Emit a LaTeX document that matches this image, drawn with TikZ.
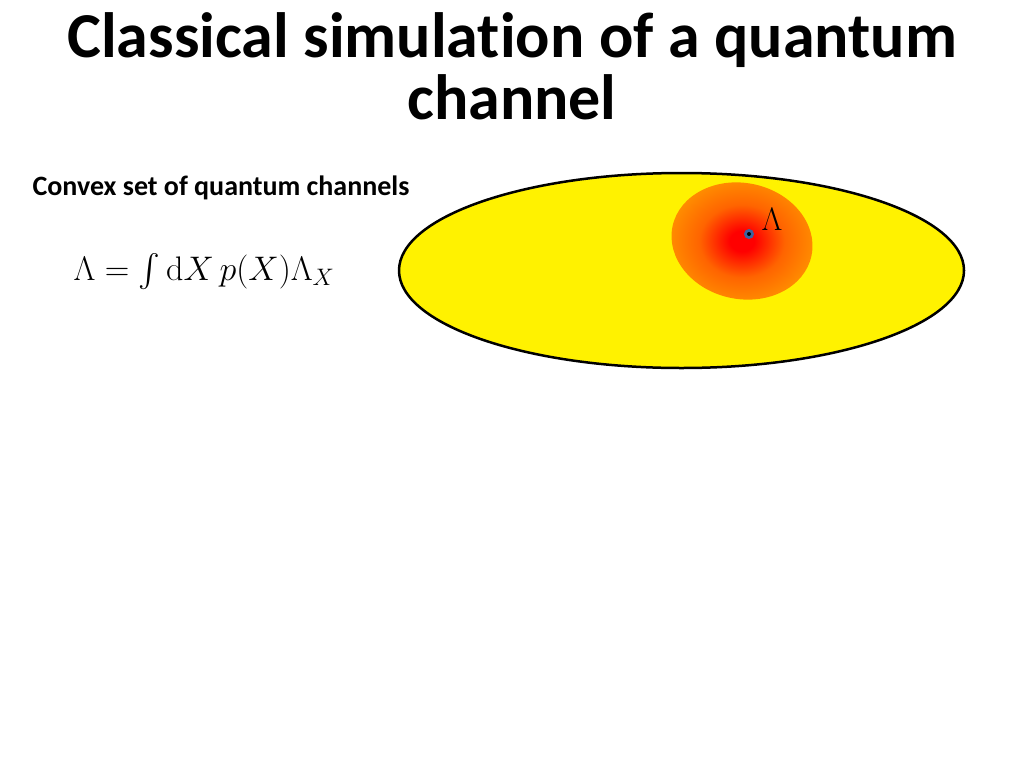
\RequirePackage{fix-cm}
\documentclass[tikz,border=0pt]{standalone}
\usepackage{graphicx}
\usepackage{exscale}
\usepackage{fontspec}
\setsansfont[Ligatures=NoCommon]{Carlito}
\usetikzlibrary{positioning}
\definecolor{blobmid}{RGB}{255,100,0}
\definecolor{bloborange}{RGB}{255,165,0}
\definecolor{blobedge}{RGB}{255,215,0}
\pgfdeclareradialshading{blob}{\pgfpoint{0bp}{0bp}}{%
  color(0bp)=(red); color(4bp)=(red); color(14bp)=(blobmid);
  color(30bp)=(bloborange); color(50bp)=(blobedge); color(100bp)=(blobedge)}
\definecolor{dotblue}{RGB}{60,100,160}
\begin{document}
\begin{tikzpicture}[x=1pt,y=-1pt]
\useasboundingbox (0,0) rectangle (1024,768);
\node[align=center,font=\sffamily\bfseries\fontsize{64}{62}\selectfont] (title) at (512,66) {Classical simulation of a quantum\\channel};
\node[anchor=west,font=\sffamily\bfseries\fontsize{28}{32}\selectfont] (setlabel) at (29,188) {Convex set of quantum channels};
\node[anchor=west,font=\fontsize{26}{30}\selectfont] (formula) at (70,272) {\scalebox{1.31}{$\Lambda = \int \mathrm{d}X\, p(X)\Lambda_X$}};
% the set of channels
\draw[line width=2.5pt,fill=yellow] (681.5,270.5) ellipse (282.5 and 97.5);
\shade[shading=blob,rotate around={-12:(742,241)}] (742,241) ellipse (71 and 58);
% the channel
\fill[dotblue] (749,234) circle (5);
\fill (749,234) circle (2);
\node[font=\fontsize{24}{28}\selectfont] (lam) at (772,219) {\scalebox{1.35}{$\Lambda$}};
\end{tikzpicture}
\end{document}
